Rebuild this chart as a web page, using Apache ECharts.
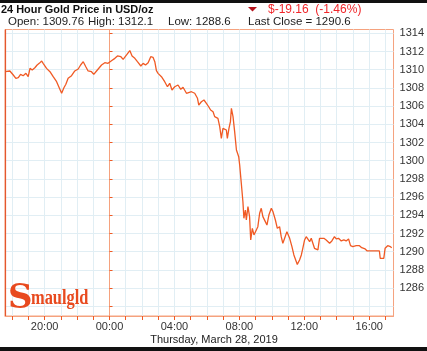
<!DOCTYPE html>
<html><head><meta charset="utf-8">
<script src="https://cdn.jsdelivr.net/npm/echarts@6/dist/echarts.min.js"></script>
<style>html,body{margin:0;padding:0;background:#fff}#c{width:427px;height:351px}</style>
</head><body><div id="c"></div>
<script>
// time in hours relative to 00:00 Thursday March 28, 2019
const hours = [-6.44,-6.14,-5.93,-5.77,-5.62,-5.48,-5.32,-5.15,-5.01,-4.90,-4.76,-4.60,-4.46,-4.33,-4.18,-4.09,-3.88,-3.67,-3.47,-3.26,-3.10,-2.95,-2.81,-2.69,-2.55,-2.34,-2.14,-1.93,-1.78,-1.62,-1.46,-1.32,-1.11,-0.97,-0.80,-0.70,-0.49,-0.29,-0.09,0.12,0.33,0.49,0.70,0.84,1.05,1.25,1.39,1.56,1.72,1.93,2.07,2.22,2.38,2.54,2.68,2.79,2.89,2.99,3.10,3.20,3.40,3.57,3.71,3.85,4.02,4.22,4.39,4.53,4.74,4.84,5.05,5.25,5.42,5.50,5.66,5.82,5.97,6.11,6.23,6.38,6.48,6.58,6.68,6.79,6.89,6.99,7.10,7.20,7.26,7.36,7.45,7.51,7.61,7.71,7.82,7.88,7.96,8.02,8.12,8.22,8.28,8.37,8.43,8.53,8.63,8.70,8.80,8.90,9.00,9.14,9.25,9.35,9.45,9.60,9.70,9.82,9.97,10.07,10.22,10.34,10.48,10.58,10.68,10.79,10.93,11.10,11.24,11.36,11.51,11.57,11.71,11.82,11.91,12.02,12.12,12.22,12.33,12.43,12.53,12.63,12.74,12.84,12.94,13.05,13.21,13.35,13.45,13.56,13.70,13.86,13.97,14.11,14.28,14.44,14.58,14.73,14.85,14.99,15.20,15.40,15.54,15.75,15.88,16.63,16.68,16.90,16.98,17.14,17.31,17.39];
const prices = [1309.8,1309.86,1309.42,1309.05,1309.12,1309.49,1309.34,1309.60,1309.23,1310.15,1309.97,1310.22,1310.52,1310.70,1310.96,1310.70,1310.15,1309.78,1309.23,1308.68,1308.02,1307.41,1308.02,1308.40,1309.05,1309.34,1309.86,1310.08,1310.52,1310.88,1310.33,1309.86,1309.78,1309.49,1309.86,1310.04,1310.52,1310.77,1310.70,1310.99,1311.25,1311.51,1311.43,1311.14,1311.62,1312.1,1311.51,1311.25,1310.88,1310.41,1310.70,1310.52,1310.77,1311.43,1311.36,1310.88,1309.89,1309.60,1309.78,1309.23,1308.68,1308.13,1308.51,1307.77,1308.13,1308.32,1307.85,1308.07,1307.41,1307.22,1307.58,1307.41,1306.86,1306.12,1306.48,1306.67,1306.31,1305.93,1305.57,1305.38,1304.84,1305.02,1304.66,1303.74,1302.46,1303.56,1303.74,1303.37,1302.46,1303.56,1304.29,1305.76,1304.84,1303.19,1301.18,1301.36,1300.44,1299.53,1297.52,1295.49,1293.67,1294.58,1293.48,1294.95,1293.85,1291.29,1292.57,1291.84,1292.02,1292.75,1294.22,1294.77,1293.85,1293.30,1292.93,1294.03,1294.77,1294.40,1293.48,1292.57,1292.75,1291.65,1290.92,1291.47,1292.20,1291.47,1290.55,1289.64,1288.90,1288.6,1289.09,1289.64,1290.37,1291.29,1291.65,1291.84,1291.10,1291.47,1290.92,1290.37,1290.55,1290.19,1291.47,1291.29,1291.47,1291.29,1291.40,1290.92,1291.18,1291.65,1291.40,1291.47,1291.18,1291.29,1291.18,1291.40,1290.66,1290.55,1290.66,1290.66,1290.44,1290.30,1290.08,1290.08,1289.27,1289.27,1290.37,1290.66,1290.55,1290.44];
const yTicks = [1284,1286,1288,1290,1292,1294,1296,1298,1300,1302,1304,1306,1308,1310,1312,1314];
const yLabels = [1286,1288,1290,1292,1294,1296,1298,1300,1302,1304,1306,1308,1310,1312,1314];
const xTicks = [-6,-5,-4,-3,-2,-1,0,1,2,3,4,5,6,7,8,9,10,11,12,13,14,15,16,17];
const xLabels = [-4,0,4,8,12,16];
const titleText = '24 Hour Gold Price in USD/oz';
const changeText = '$-19.16  (-1.46%)';
const statTexts = ['Open: 1309.76', 'High: 1312.1', 'Low: 1288.6', 'Last Close = 1290.6'];
const dateText = 'Thursday, March 28, 2019';

const FONT = '"Liberation Sans", Arial, sans-serif';
const LINE = '#f05a24';
const BORDER = '#f5a27e';
const GRIDC = '#e1eef4';

const chart = echarts.init(document.getElementById('c'), null, {renderer: 'canvas'});
const statX = [8, 88, 168, 248];
chart.setOption({
  animation: false,
  backgroundColor: '#fff',
  grid: {left: 5, top: 29.5, right: 33, bottom: 35, show: true, borderColor: BORDER, borderWidth: 1, backgroundColor: '#fff'},
  xAxis: [{
    type: 'value', min: -6.44, max: 17.5,
    axisLine: {show: true, lineStyle: {color: BORDER}},
    axisTick: {show: true, length: 4, lineStyle: {color: LINE}, customValues: xTicks},
    axisLabel: {customValues: xLabels, color: '#333', fontFamily: FONT, fontSize: 11, margin: 5,
      formatter: v => String(((v % 24) + 24) % 24).padStart(2, '0') + ':00'},
    splitLine: {show: false}
  }, {
    type: 'value', min: -6.44, max: 17.5, position: 'bottom',
    axisLine: {show: false},
    axisTick: {show: false, customValues: xTicks},
    axisLabel: {show: false, customValues: xTicks},
    splitLine: {show: true, lineStyle: {color: GRIDC, width: 1}}
  }],
  yAxis: {
    type: 'value', position: 'right', min: 1282.93, max: 1314.42,
    axisLine: {show: true, lineStyle: {color: BORDER}},
    axisTick: {show: true, length: 3, lineStyle: {color: LINE}, customValues: yTicks},
    axisLabel: {customValues: yLabels, color: '#333', fontFamily: FONT, fontSize: 11, margin: 6,
      formatter: v => String(v)},
    splitLine: {show: true, lineStyle: {color: GRIDC, width: 1}}
  },
  series: [{
    type: 'line', showSymbol: false, symbol: 'none',
    data: hours.map((h, i) => [h, prices[i]]),
    lineStyle: {color: LINE, width: 1.3},
    z: 5
  }],
  graphic: [
    {type: 'rect', shape: {x: 0, y: 0, width: 427, height: 3}, style: {fill: '#111'}, z: 100},
    {type: 'rect', shape: {x: 0, y: 347, width: 427, height: 4}, style: {fill: '#111'}, z: 100},
    {type: 'line', shape: {x1: 5.5, y1: 29.5, x2: 5.5, y2: 316}, style: {stroke: '#e4572e', lineWidth: 1.2}, z: 100},
    {type: 'text', x: 1, y: 9.5, scaleX: 0.95, style: {text: titleText, font: 'bold 11.5px ' + FONT, fill: '#111', verticalAlign: 'middle'}, z: 100},
    {type: 'polygon', shape: {points: [[248, 7], [257, 7], [252.5, 11.5]]}, style: {fill: '#b5121b'}, z: 100},
    {type: 'text', x: 268, y: 9.5, style: {text: changeText, font: '12px ' + FONT, fill: '#f0262a', verticalAlign: 'middle'}, z: 100},
    ...statTexts.map((t, i) => ({type: 'text', x: statX[i], y: 22, style: {text: t, font: '11.5px ' + FONT, fill: '#222', verticalAlign: 'middle'}, z: 100})),
    {type: 'text', x: 214, y: 340, style: {text: dateText, font: '11px ' + FONT, fill: '#222', align: 'center', verticalAlign: 'middle'}, z: 100},
    {type: 'text', x: 8, y: 299, style: {text: 'S', font: 'bold 34px "DejaVu Serif", serif', fill: '#e84a1f', verticalAlign: 'middle'}, z: 100},
    {type: 'text', x: 31, y: 299, scaleX: 0.82, style: {text: 'maulgld', font: 'bold 20px "Liberation Serif", serif', fill: '#e84a1f', verticalAlign: 'middle'}, z: 100}
  ]
});
</script></body></html>
